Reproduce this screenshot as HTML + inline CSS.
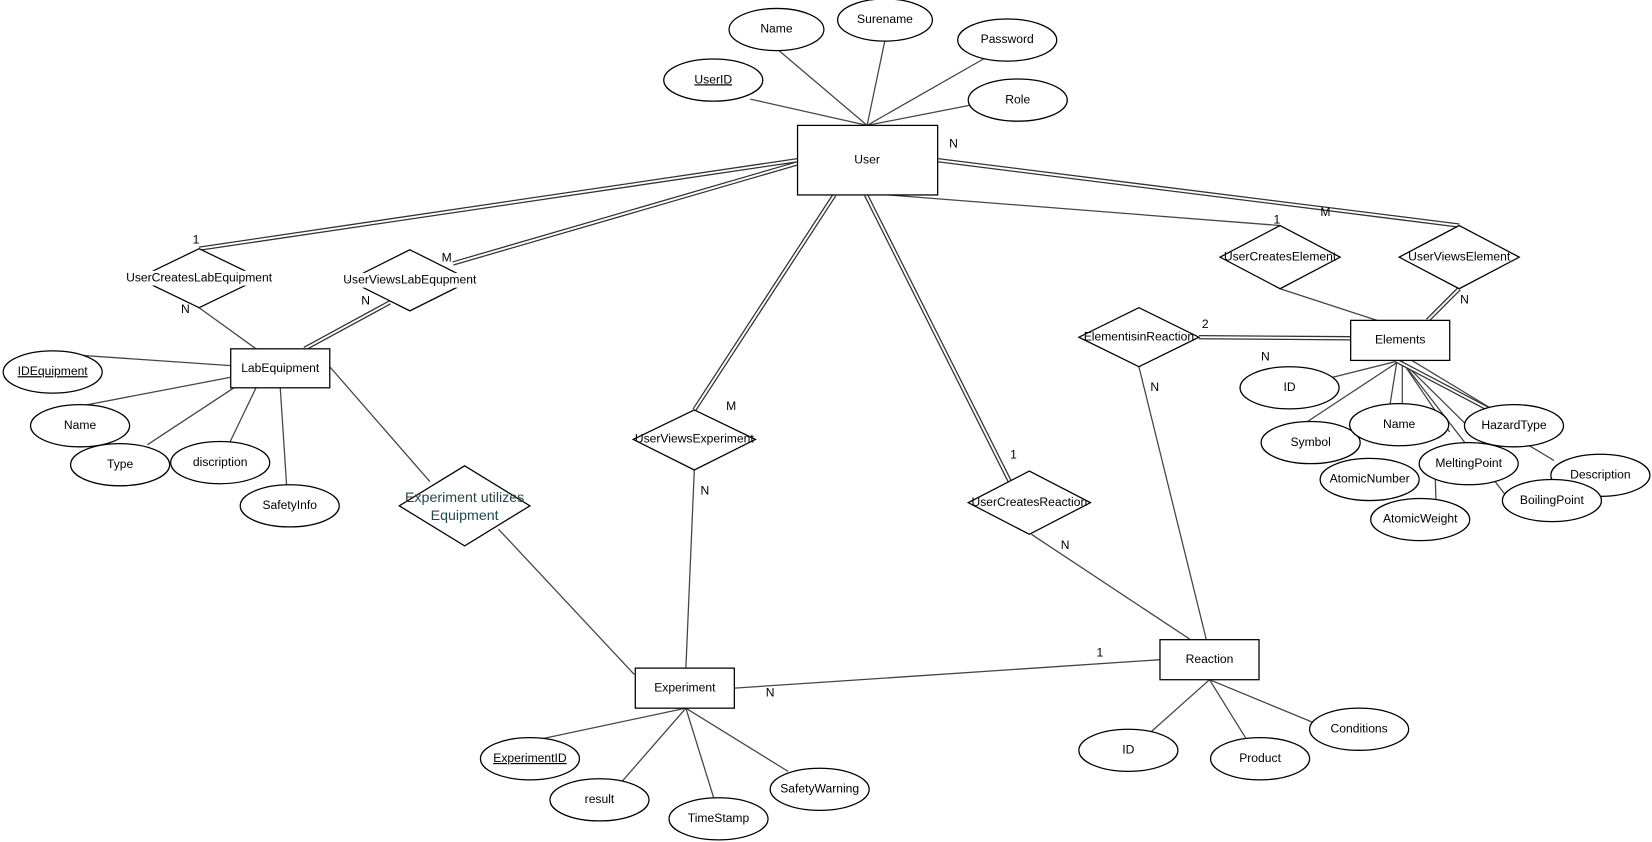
<!DOCTYPE html>
<html><head><meta charset="utf-8"><style>
html,body{margin:0;padding:0;background:#fff;}
svg{display:block}
text{font-family:"Liberation Sans",Arial,sans-serif;font-size:11.5px;fill:#000;text-anchor:middle;dominant-baseline:middle}
.l{stroke:#444;stroke-width:1.2;fill:none}
.d1{stroke:#333;stroke-width:4.2;fill:none}
.d2{stroke:#fff;stroke-width:1.8;fill:none}
.s{fill:#fff;stroke:#000;stroke-width:1.2}
</style></head><body>
<svg width="1652" height="842" viewBox="0 0 1568 799" preserveAspectRatio="none" xmlns="http://www.w3.org/2000/svg">
<!-- single lines -->
<g class="l">
<line x1="823" y1="119" x2="737" y2="46"/><line x1="823" y1="119" x2="840" y2="38"/><line x1="823" y1="119" x2="958" y2="42"/><line x1="823" y1="119" x2="712" y2="94"/><line x1="823" y1="119" x2="920" y2="100"/>
<line x1="189" y1="292" x2="243" y2="331"/>
<line x1="219" y1="347" x2="60" y2="336"/><line x1="219" y1="358" x2="78" y2="385"/><line x1="222" y1="368" x2="140" y2="422"/><line x1="243" y1="368" x2="218" y2="420"/><line x1="266" y1="368" x2="272" y2="460"/>
<line x1="313" y1="348" x2="408" y2="457"/><line x1="473" y1="502" x2="602" y2="640"/>
<line x1="659" y1="446" x2="651" y2="634"/>
<line x1="651" y1="672" x2="510" y2="702"/><line x1="651" y1="672" x2="590" y2="742"/><line x1="651" y1="672" x2="678" y2="759"/><line x1="651" y1="672" x2="748" y2="732"/>
<line x1="979" y1="507" x2="1130" y2="607"/>
<line x1="697" y1="653" x2="1101" y2="626"/>
<line x1="1148" y1="645" x2="1092" y2="695"/><line x1="1148" y1="645" x2="1184" y2="703"/><line x1="1148" y1="645" x2="1245" y2="685"/>
<line x1="1081" y1="348" x2="1145" y2="607"/>
<line x1="843" y1="185" x2="1215" y2="214"/><line x1="1215" y1="274" x2="1307" y2="304"/>
<line x1="1329" y1="342" x2="1265" y2="358"/><line x1="1329" y1="342" x2="1238" y2="402"/><line x1="1326" y1="342" x2="1319" y2="386"/><line x1="1331" y1="342" x2="1331" y2="386"/><line x1="1330" y1="342" x2="1376" y2="410"/><line x1="1330" y1="342" x2="1410" y2="421"/><line x1="1330" y1="342" x2="1440" y2="484"/><line x1="1340" y1="342" x2="1416" y2="388"/>
<line x1="1364" y1="424" x2="1362" y2="440"/><line x1="1362" y1="445" x2="1363" y2="476"/><line x1="1300" y1="435" x2="1295" y2="462"/><line x1="1450" y1="422" x2="1475" y2="437"/>
</g>
<!-- double lines -->
<g>
<path class="d1" d="M757 152 L189 236 M757 155 L430 250 M370 287 L289 331 M792 185 L659 389 M822 185 L960 460 M1138 320 L1282 321 M890 152 L1385 214 M1385 274 L1355 304 M1325 342 L1420 392"/>
<path class="d2" d="M757 152 L189 236 M757 155 L430 250 M370 287 L289 331 M792 185 L659 389 M822 185 L960 460 M1138 320 L1282 321 M890 152 L1385 214 M1385 274 L1355 304 M1325 342 L1420 392"/>
</g>
<!-- entities -->
<rect class="s" x="757" y="119" width="133" height="66"/><text x="823" y="152">User</text>
<rect class="s" x="219" y="331" width="94" height="37"/><text x="266" y="350">LabEquipment</text>
<rect class="s" x="603" y="634" width="94" height="38"/><text x="650" y="653">Experiment</text>
<rect class="s" x="1101" y="607" width="94" height="38"/><text x="1148" y="626">Reaction</text>
<rect class="s" x="1282" y="304" width="94" height="38"/><text x="1329" y="323">Elements</text>
<!-- diamonds -->
<g class="s">
<polygon points="189,236 247,264 189,292 131,264"/>
<polygon points="389,237 447,266 389,295 331,266"/>
<polygon points="441,442 503,480 441,518 379,480"/>
<polygon points="659,389 717,417 659,446 601,417"/>
<polygon points="977,447 1035,477 977,507 919,477"/>
<polygon points="1081,292 1138,320 1081,348 1024,320"/>
<polygon points="1215,214 1272,244 1215,274 1158,244"/>
<polygon points="1385,214 1442,244 1385,274 1328,244"/>
</g>
<g fill="#fff">
<rect x="125" y="257" width="128" height="14"/><rect x="331" y="259" width="116" height="14"/>
</g>
<text x="189" y="264">UserCreatesLabEquipment</text>
<text x="389" y="266">UserViewsLabEqupment</text>
<text x="441" y="473" style="font-size:13.5px;fill:#24494a">Experiment utilizes</text>
<text x="441" y="490" style="font-size:13.5px;fill:#24494a">Equipment</text>
<text x="659" y="417">UserViewsExperiment</text>
<text x="977" y="477">UserCreatesReaction</text>
<text x="1081" y="320">ElementisinReaction</text>
<text x="1215" y="244">UserCreatesElement</text>
<text x="1385" y="244">UserViewsElement</text>
<!-- attributes -->
<g class="s">
<ellipse cx="737" cy="28" rx="45" ry="20"/><ellipse cx="840" cy="19" rx="45" ry="20"/><ellipse cx="956" cy="38" rx="47" ry="20"/><ellipse cx="677" cy="76" rx="47" ry="20"/><ellipse cx="966" cy="95" rx="47" ry="20"/>
<ellipse cx="50" cy="353" rx="47" ry="20"/><ellipse cx="76" cy="404" rx="47" ry="20"/><ellipse cx="114" cy="441" rx="47" ry="20"/><ellipse cx="209" cy="439" rx="47" ry="20"/><ellipse cx="275" cy="480" rx="47" ry="20"/>
<ellipse cx="503" cy="720" rx="47" ry="20"/><ellipse cx="569" cy="759" rx="47" ry="20"/><ellipse cx="682" cy="777" rx="47" ry="20"/><ellipse cx="778" cy="749" rx="47" ry="20"/>
<ellipse cx="1071" cy="712" rx="47" ry="20"/><ellipse cx="1196" cy="720" rx="47" ry="20"/><ellipse cx="1290" cy="692" rx="47" ry="20"/>
<ellipse cx="1224" cy="368" rx="47" ry="20"/><ellipse cx="1244" cy="420" rx="47" ry="20"/><ellipse cx="1437" cy="404" rx="47" ry="20"/><ellipse cx="1300" cy="455" rx="47" ry="20"/><ellipse cx="1394" cy="440" rx="47" ry="20"/><ellipse cx="1348" cy="493" rx="47" ry="20"/><ellipse cx="1519" cy="451" rx="47" ry="20"/><ellipse cx="1473" cy="475" rx="47" ry="20"/>
<ellipse cx="1328" cy="403" rx="47" ry="20"/>
</g>
<text x="737" y="28">Name</text><text x="840" y="19">Surename</text><text x="956" y="38">Password</text><text x="677" y="76" text-decoration="underline">UserID</text><text x="966" y="95">Role</text>
<text x="50" y="353" text-decoration="underline">IDEquipment</text><text x="76" y="404">Name</text><text x="114" y="441">Type</text><text x="209" y="439">discription</text><text x="275" y="480">SafetyInfo</text>
<text x="503" y="720" text-decoration="underline">ExperimentID</text><text x="569" y="759">result</text><text x="682" y="777">TimeStamp</text><text x="778" y="749">SafetyWarning</text>
<text x="1071" y="712">ID</text><text x="1196" y="720">Product</text><text x="1290" y="692">Conditions</text>
<text x="1224" y="368">ID</text><text x="1244" y="420">Symbol</text><text x="1328" y="403">Name</text><text x="1437" y="404">HazardType</text><text x="1300" y="455">AtomicNumber</text><text x="1394" y="440">MeltingPoint</text><text x="1348" y="493">AtomicWeight</text><text x="1519" y="451">Description</text><text x="1473" y="475">BoilingPoint</text>
<!-- cardinalities -->
<text x="186" y="228">1</text><text x="176" y="294">N</text><text x="424" y="245">M</text><text x="347" y="286">N</text>
<text x="694" y="386">M</text><text x="669" y="466">N</text><text x="962" y="432">1</text><text x="1011" y="518">N</text>
<text x="1044" y="620">1</text><text x="731" y="658">N</text><text x="1144" y="308">2</text><text x="1096" y="368">N</text><text x="1201" y="339">N</text>
<text x="1212" y="209">1</text><text x="1258" y="202">M</text><text x="905" y="137">N</text><text x="1390" y="285">N</text>
</svg>
</body></html>
